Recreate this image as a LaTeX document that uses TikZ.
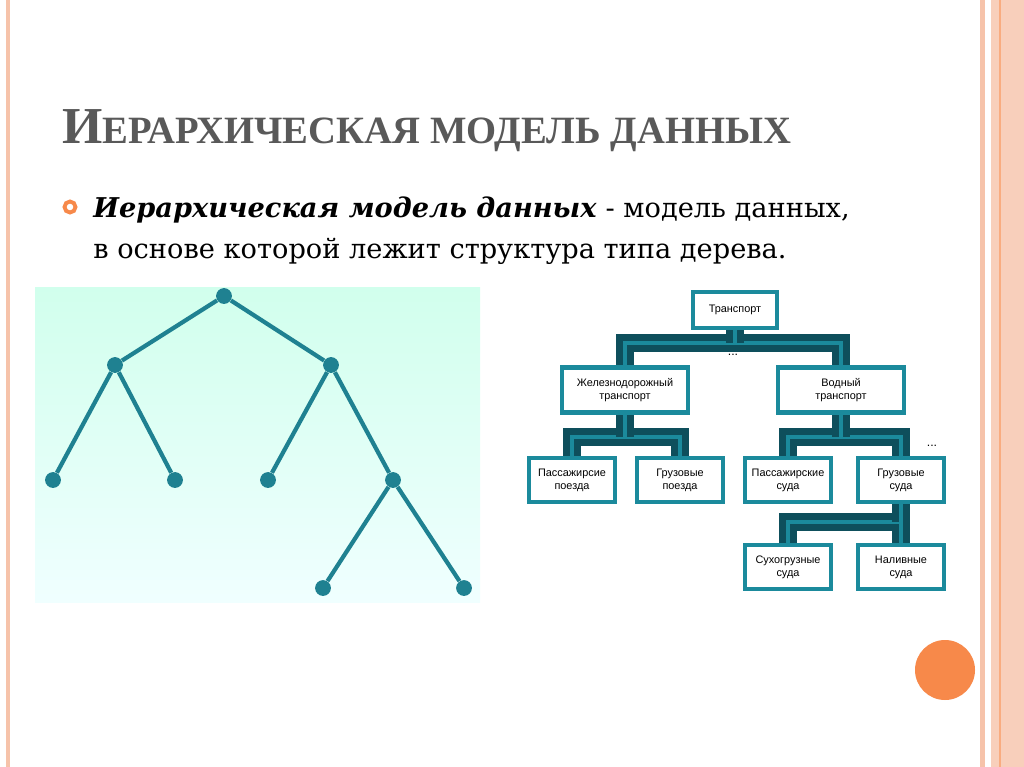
\documentclass[tikz,border=0pt]{standalone}
\usepackage{fontspec}
\setmainfont{Liberation Serif}
\newfontfamily\bodyfont{DejaVu Serif}
\newfontfamily\boxfont{Liberation Sans}
\usetikzlibrary{positioning,backgrounds}
\definecolor{cTeal}{HTML}{1B8A9C}
\definecolor{cDark}{HTML}{0E4F5C}
\definecolor{cLine}{HTML}{1F8191}
\definecolor{cPeach}{HTML}{F6C3AA}
\definecolor{cOrange}{HTML}{F7894A}
\definecolor{cTitle}{HTML}{595959}
\tikzset{
    dotnode/.style={circle, fill=cLine, inner sep=0pt, minimum size=9pt},
    branch/.style={draw=cLine, line width=2.4pt},
    tbox/.style={
        rectangle, draw=cTeal, line width=2.4pt,
        fill=white, font=\boxfont\fontsize{6.2}{7.5}\selectfont,
        align=center, inner sep=1pt,
        minimum height=0.8cm
    },
    tlink/.style={draw=cDark, line width=4pt, double=cTeal, double distance=2pt}
}
\begin{document}
\begin{tikzpicture}[x=0.02cm, y=-0.02cm]
    \useasboundingbox (0,0) rectangle (1024,767);
    \begin{scope}[on background layer]
    \fill[white] (0,0) rectangle (1024,767);
    \shade[top color=green!40!cyan!18, bottom color=cyan!6] (35,287) rectangle (480,602);
    \end{scope}

    % slide borders
    \fill[cPeach] (6,0) rectangle (10,767);
    \fill[cPeach] (980,0) rectangle (985,767);
    \fill[cPeach!80] (991,0) rectangle (1024,767);
    \draw[cOrange!70, line width=1pt] (1000,0) -- (1000,767);

    % title and text
    \node[anchor=base west, text=cTitle, inner sep=0pt] (title) at (62,143)
        {\bfseries{\fontsize{29.5}{29.5}\selectfont И}{\fontsize{22}{22}\selectfont ЕРАРХИЧЕСКАЯ МОДЕЛЬ ДАННЫХ}};
    \draw[cOrange, line width=2.2pt] (70,207) circle (5.5);
    \node[anchor=base west, inner sep=0pt, font=\bodyfont\fontsize{15.5}{15.5}\selectfont] (line1) at (93,217)
        {\textbf{\textit{Иерархическая модель данных}} - модель данных,};
    \node[anchor=base west, inner sep=0pt, font=\bodyfont\fontsize{15.5}{15.5}\selectfont] (line2) at (93,258)
        {в основе которой лежит структура типа дерева.};

    % left tree
    \node[dotnode] (r)   at (224,296) {};
    \node[dotnode] (l)   at (115,365) {};
    \node[dotnode] (rr)  at (331,365) {};
    \node[dotnode] (ll)  at (53,480) {};
    \node[dotnode] (lr)  at (175,480) {};
    \node[dotnode] (rl)  at (268,480) {};
    \node[dotnode] (rrr) at (393,480) {};
    \node[dotnode] (x1)  at (323,588) {};
    \node[dotnode] (x2)  at (464,588) {};
    \begin{scope}[on background layer]
    \draw[branch] (l) -- (r) -- (rr);
    \draw[branch] (ll) -- (l) -- (lr);
    \draw[branch] (rl) -- (rr) -- (rrr);
    \draw[branch] (x1) -- (rrr) -- (x2);
    \end{scope}

    % right tree
    \node[tbox, minimum width=1.68cm, minimum height=0.72cm] (trans) at (735,310) {Транспорт};
    \node[tbox, minimum width=2.52cm, minimum height=0.9cm] (rail) at (625,390) {Железнодорожный\\транспорт};
    \node[tbox, minimum width=2.52cm, minimum height=0.9cm] (water) at (841,390) {Водный\\транспорт};
    \node[tbox, minimum width=1.72cm, minimum height=0.88cm] (ptrain) at (572,480) {Пассажирсие\\поезда};
    \node[tbox, minimum width=1.72cm, minimum height=0.88cm] (ftrain) at (680,480) {Грузовые\\поезда};
    \node[tbox, minimum width=1.72cm, minimum height=0.88cm] (pship) at (788,480) {Пассажирские\\суда};
    \node[tbox, minimum width=1.72cm, minimum height=0.88cm] (fship) at (901,480) {Грузовые\\суда};
    \node[tbox, minimum width=1.72cm, minimum height=0.88cm] (dry) at (788,567) {Сухогрузные\\суда};
    \node[tbox, minimum width=1.72cm, minimum height=0.88cm] (tank) at (901,567) {Наливные\\суда};
    \coordinate (b1) at (735,343);
    \coordinate (b2) at (625,437);
    \coordinate (b3) at (841,437);
    \coordinate (b4) at (901,522);
    \begin{scope}[on background layer]
    \draw[tlink] (rail.center) |- (b1) -| (water.center);
    \draw[tlink] (trans.center) -- (b1);
    \draw[tlink] (ptrain.center) |- (b2) -| (ftrain.center);
    \draw[tlink] (rail.center) -- (b2);
    \draw[tlink] (pship.center) |- (b3) -| (fship.center);
    \draw[tlink] (water.center) -- (b3);
    \draw[tlink] (dry.center) |- (b4) -| (tank.center);
    \draw[tlink] (fship.center) -- (b4);
    \end{scope}
    \node[font=\boxfont\fontsize{7}{7}\selectfont] (dots1) at (733,355) {...};
    \node[font=\boxfont\fontsize{7}{7}\selectfont] (dots2) at (932,446) {...};

    % decoration circle
    \fill[cOrange] (945,670) circle (30);
\end{tikzpicture}
\end{document}
